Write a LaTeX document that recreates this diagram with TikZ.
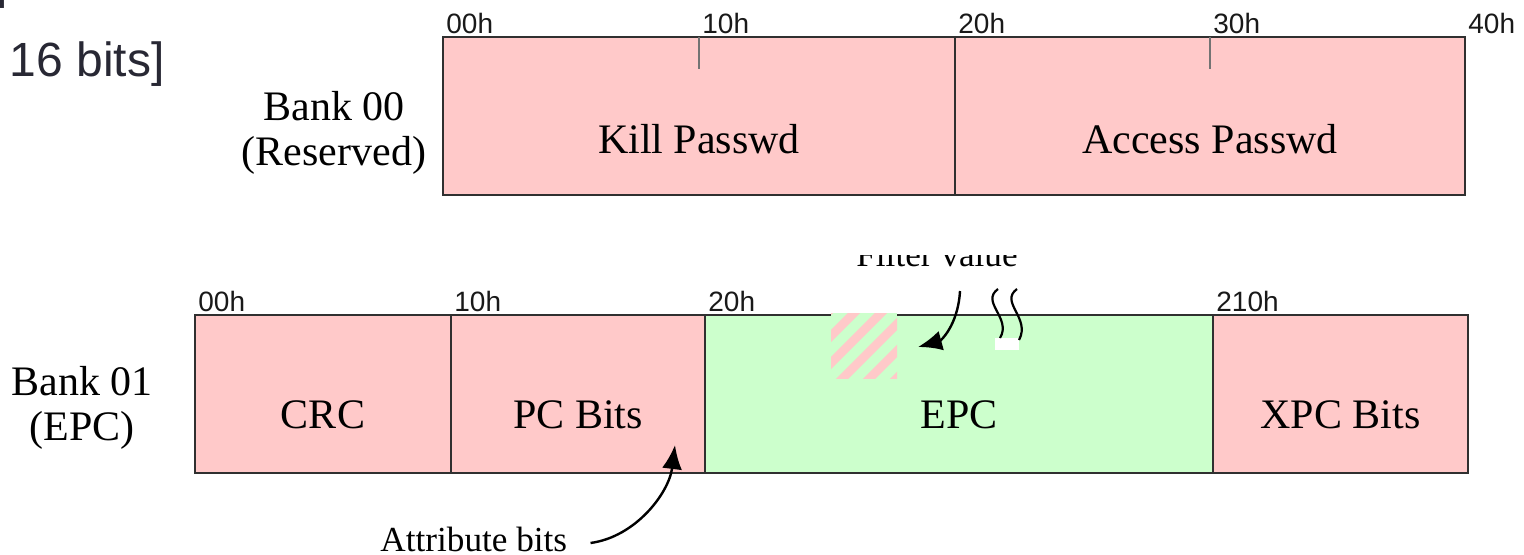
\documentclass[tikz,border=0pt]{standalone}
\usepackage{fontspec}
\setmainfont{Liberation Serif}
\setsansfont{Liberation Sans}
\usetikzlibrary{positioning,arrows.meta}
\definecolor{pinkfld}{RGB}{255,201,201}
\definecolor{greenfld}{RGB}{204,255,204}
\definecolor{edge}{RGB}{48,48,48}
\definecolor{ink}{RGB}{40,40,52}

\begin{document}
\begin{tikzpicture}[x=0.5pt,y=-0.5pt,
  field/.style={draw=edge,line width=1pt,minimum height=79pt,inner sep=0pt,outer sep=0pt,anchor=north west},
  fieldtext/.style={font=\fontsize{21}{24}\selectfont,anchor=base},
  addr/.style={font=\sffamily\fontsize{14}{16}\selectfont,text=black!90,anchor=south west,inner sep=1.5pt},
  bank/.style={font=\fontsize{21}{22.5}\selectfont,align=center},
  note/.style={font=\fontsize{17.6}{20}\selectfont},
  notch/.style={draw=black!55,line width=1pt},
  pointer/.style={line width=1.2pt,-{Latex[length=12pt,width=10pt]}}]
  \useasboundingbox (0,0) rectangle (1524,554);
  \clip (0,0) rectangle (1524,554);

  % caption lines above
  \node[font=\sffamily\fontsize{24}{28}\selectfont,text=ink,anchor=base east,inner sep=0pt] (prevline) at (8,-2) {]};
  \node[font=\sffamily\fontsize{24}{28}\selectfont,text=ink,anchor=base east,inner sep=0pt] (width) at (165,76) {16 bits]};

  % bank 00
  \node[bank] (bank0) at (334,133) {Bank 00\\(Reserved)};
  \node[field,fill=pinkfld,minimum width=256pt] (kill) at (443,37) {};
  \node[field,fill=pinkfld,minimum width=255pt,right=0pt of kill] (access) {};
  \draw[notch] (kill.north) -- ++(0,32);
  \draw[notch] (access.north) -- ++(0,32);
  \node[fieldtext] (killtxt) at ([yshift=21pt]kill.south) {Kill Passwd};
  \node[fieldtext] (accesstxt) at ([yshift=21pt]access.south) {Access Passwd};
  \node[addr] (t00) at (kill.north west) {00h};
  \node[addr] (t10) at (kill.north) {10h};
  \node[addr] (t20) at (kill.north east) {20h};
  \node[addr] (t30) at (access.north) {30h};
  \node[addr] (t40) at (access.north east) {40h};

  % bank 01
  \node[bank] (bank1) at (82,408) {Bank 01\\(EPC)};
  \node[field,fill=pinkfld,minimum width=128pt] (crc) at (195,315) {};
  \node[field,fill=pinkfld,minimum width=127pt,right=0pt of crc] (pcbits) {};
  \node[field,fill=greenfld,minimum width=254pt,right=0pt of pcbits] (epc) {};
  \node[field,fill=pinkfld,minimum width=127.5pt,right=0pt of epc] (xpc) {};
  \node[fieldtext] (crctxt) at ([yshift=22.5pt]crc.south) {CRC};
  \node[fieldtext] (pctxt) at ([yshift=22.5pt]pcbits.south) {PC Bits};
  \node[fieldtext] (epctxt) at ([yshift=22.5pt]epc.south) {EPC};
  \node[fieldtext] (xpctxt) at ([yshift=22.5pt]xpc.south) {XPC Bits};
  \node[addr] (b00) at (crc.north west) {00h};
  \node[addr] (b10) at (pcbits.north west) {10h};
  \node[addr] (b20) at (epc.north west) {20h};
  \node[addr] (b210) at (xpc.north west) {210h};

  % hatched filter window
  \begin{scope}
    \clip (831,313) rectangle (897,378);
    \fill[greenfld] (831,313) rectangle (897,378);
    \foreach \d in {-108,-81,...,81}
      \draw[pinkfld,line width=4.3pt] ({831+\d},390) -- ++(90,-90);
  \end{scope}

  % break marks
  \fill[white] (995,338) rectangle (1019,350);
  \draw[line width=1.1pt] (998,289) .. controls (980,302) and (1012,318) .. (1000,338);
  \draw[line width=1.1pt] (1017,289) .. controls (999,302) and (1031,318) .. (1019,340);

  % filter value note
  \begin{scope}
    \clip (840,255) rectangle (1040,285);
    \node[note,anchor=base] (filter) at (937,266) {Filter value};
  \end{scope}
  \coordinate (filterfrom) at (960,291);
  \coordinate (filtertip) at (918,347);
  \draw[pointer] (filterfrom) .. controls +(-2,35) and +(22,-6) .. (filtertip);

  % attribute bits note
  \node[note,anchor=base west,inner sep=0pt] (attr) at (380,551) {Attribute bits};
  \coordinate (attrtip) at (675,445);
  \draw[pointer] (attr.east) ++(23,4) .. controls +(45,-6) and +(-6,48) .. (attrtip);
\end{tikzpicture}
\end{document}
